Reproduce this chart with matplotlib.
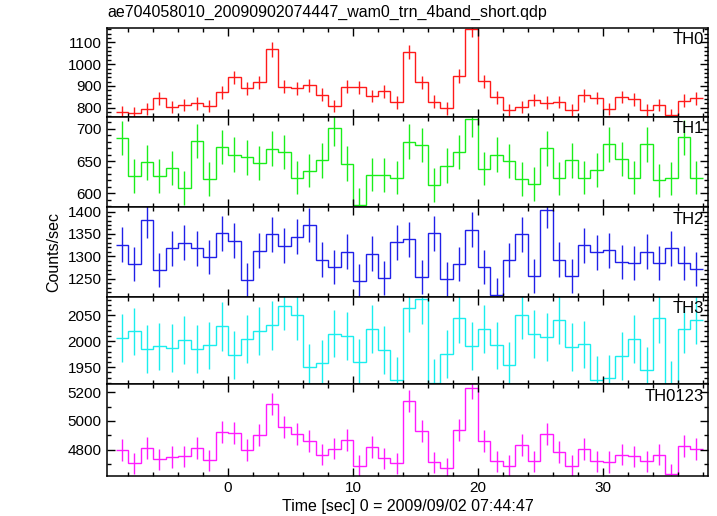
"""
Recreate the WAM 4-band light curve (QDP-style stacked panels).
"""

import numpy as np
import matplotlib
matplotlib.use('Agg')
import matplotlib.pyplot as plt
from matplotlib.ticker import MultipleLocator

plt.rcParams['font.family'] = ['Liberation Sans', 'DejaVu Sans']

# ============================================================
# DATA — 1 s bins from -9 s to 38 s
# ============================================================
BIN_START = -9
BIN_WIDTH = 1.0

th0_rate = [779, 774, 793, 843, 802, 811, 821, 808, 871, 939, 889, 916, 1068, 896, 889, 903,
            860, 808, 896, 893, 854, 875, 825, 1055, 916, 828, 797, 945, 1160, 921, 848, 789,
            802, 835, 823, 826, 789, 857, 844, 794, 850, 838, 788, 812, 768, 832, 843]
th0_err = [28, 28, 28, 29, 28, 28, 29, 28, 30, 31, 30, 30, 33, 30, 30, 30,
           29, 28, 30, 30, 29, 30, 29, 32, 30, 29, 28, 31, 34, 30, 29, 28,
           28, 29, 29, 29, 28, 29, 29, 28, 29, 29, 28, 28, 28, 29, 29]

th1_rate = [686, 627, 648, 627, 639, 608, 681, 622, 672, 660, 656, 647, 669, 664, 624, 635,
            651, 701, 646, 582, 629, 628, 624, 680, 675, 613, 643, 664, 715, 638, 660, 650,
            622, 614, 670, 623, 651, 624, 636, 676, 653, 624, 676, 620, 623, 687, 624]
th1_err = [27, 26, 27, 26, 26, 26, 27, 26, 27, 27, 27, 27, 27, 27, 26, 26,
           27, 28, 27, 26, 26, 26, 26, 27, 27, 26, 27, 27, 28, 26, 27, 27,
           26, 26, 27, 26, 27, 26, 26, 27, 27, 26, 27, 26, 26, 27, 26]

th2_rate = [1326, 1282, 1381, 1269, 1318, 1330, 1318, 1299, 1352, 1335, 1247, 1313, 1349, 1324,
            1344, 1370, 1293, 1277, 1310, 1246, 1306, 1251, 1332, 1338, 1255, 1352, 1249, 1282,
            1359, 1276, 1214, 1291, 1349, 1256, 1404, 1293, 1256, 1325, 1309, 1314, 1287, 1285,
            1310, 1285, 1318, 1285, 1272]
th2_err = [39, 38, 40, 38, 39, 39, 39, 38, 39, 39, 38, 39, 39, 39,
           39, 39, 38, 38, 39, 38, 39, 38, 39, 39, 38, 39, 38, 38,
           39, 38, 37, 38, 39, 38, 40, 38, 38, 39, 39, 39, 38, 38,
           39, 38, 39, 38, 38]

th3_rate = [2006, 2019, 1985, 1990, 1987, 2003, 1985, 1992, 2029, 1973, 2004, 2020, 2031, 2068,
            2050, 1950, 1958, 2015, 2010, 1960, 2024, 1983, 1925, 2065, 2081, 1920, 1976, 2044,
            1991, 2024, 1992, 1954, 2051, 2014, 2008, 2042, 1989, 1994, 1926, 1929, 1972, 2005,
            1944, 2044, 1917, 2023, 2041]
th3_err = [46, 46, 46, 46, 46, 46, 46, 46, 47, 46, 46, 46, 47, 47,
           47, 45, 45, 46, 46, 45, 46, 46, 45, 47, 47, 45, 46, 47,
           46, 46, 46, 45, 47, 46, 46, 47, 46, 46, 45, 45, 46, 46,
           45, 47, 45, 46, 47]

th0123_rate = [4798, 4705, 4812, 4733, 4749, 4754, 4812, 4726, 4924, 4915, 4798, 4901, 5118, 4957,
               4910, 4859, 4765, 4807, 4866, 4686, 4817, 4740, 4705, 5141, 4928, 4712, 4670, 4938,
               5229, 4859, 4719, 4686, 4831, 4719, 4908, 4784, 4686, 4803, 4719, 4714, 4765, 4754,
               4719, 4765, 4628, 4826, 4803]
th0123_err = [75, 74, 75, 74, 74, 74, 75, 74, 76, 76, 75, 76, 78, 76,
              76, 75, 74, 75, 75, 74, 75, 74, 74, 78, 76, 74, 74, 76,
              79, 75, 74, 74, 75, 74, 76, 75, 74, 75, 74, 74, 74, 74,
              74, 74, 73, 75, 75]

band_names = ['TH0', 'TH1', 'TH2', 'TH3', 'TH0123']
band_colors = ['#ff1a1a', '#1aee1a', '#2020e8', '#1aeeee', '#ff1aff']
band_rates = [th0_rate, th1_rate, th2_rate, th3_rate, th0123_rate]
band_errs = [th0_err, th1_err, th2_err, th3_err, th0123_err]

# axis ranges, ticks
y_limits = [(759, 1167), (578, 719), (1210, 1409.5), (1917, 2086), (4618, 5256)]
y_major = [100, 50, 50, 50, 200]
y_minor = [20, 10, 10, 10, 100]
X_LIMITS = (-9.7, 38.42)

TITLE = 'ae704058010_20090902074447_wam0_trn_4band_short.qdp'
X_LABEL = 'Time [sec] 0 = 2009/09/02 07:44:47'
Y_LABEL = 'Counts/sec'


def main():
    fig = plt.figure(figsize=(7.17, 5.16), dpi=100)
    gs = fig.add_gridspec(5, 1, left=0.1492, right=0.9874, top=0.9463, bottom=0.0781,
                          hspace=0, height_ratios=[89, 90.6, 89.4, 87.6, 91.4])

    n_bins = len(th0_rate)
    edges = BIN_START + BIN_WIDTH * np.arange(n_bins + 1)
    centers = 0.5 * (edges[:-1] + edges[1:])

    axes = []
    for i in range(5):
        ax = fig.add_subplot(gs[i])
        axes.append(ax)
        color = band_colors[i]

        ax.stairs(band_rates[i], edges, baseline=None, color=color, linewidth=1.0)
        ax.errorbar(centers, band_rates[i], yerr=band_errs[i], fmt='none',
                    ecolor=color, elinewidth=1.0, capsize=0)

        ax.set_xlim(*X_LIMITS)
        ax.set_ylim(*y_limits[i])
        ax.xaxis.set_major_locator(MultipleLocator(10))
        ax.xaxis.set_minor_locator(MultipleLocator(2))
        ax.yaxis.set_major_locator(MultipleLocator(y_major[i]))
        ax.yaxis.set_minor_locator(MultipleLocator(y_minor[i]))
        ax.tick_params(which='both', direction='in', top=True, right=True,
                       labelsize=11, width=1, pad=4)
        ax.tick_params(which='major', length=6)
        ax.tick_params(which='minor', length=3)
        for sp in ax.spines.values():
            sp.set_linewidth(1.1)

        if i < 4:
            ax.tick_params(labelbottom=False)

        ax.text(0.993, 0.95, band_names[i], transform=ax.transAxes,
                ha='right', va='top', fontsize=12)

    fig.text(0.1492, 0.975, TITLE, ha='left', va='center', fontsize=11.5)
    axes[-1].set_xlabel(X_LABEL, fontsize=11.5, labelpad=3)
    fig.text(0.075, 0.512, Y_LABEL, rotation=90, ha='center', va='center', fontsize=11.5)

    fig.savefig('out.png', dpi=100)
    plt.close(fig)


if __name__ == '__main__':
    main()
